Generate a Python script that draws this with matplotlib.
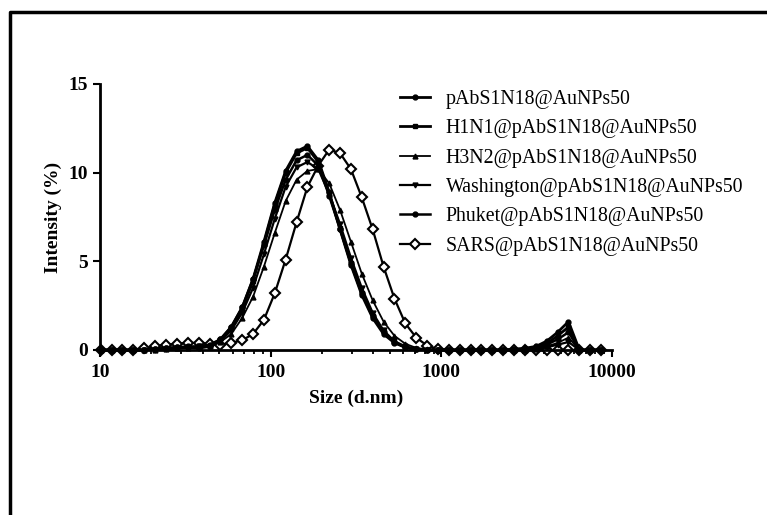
import matplotlib.pyplot as plt
from matplotlib.lines import Line2D

# Tamaños de partícula (nm) de los bins del equipo DLS
size_nm = [10.10, 11.70, 13.54, 15.69, 18.17, 21.04, 24.36, 28.21, 32.67, 37.84,
           43.82, 50.75, 58.77, 68.06, 78.82, 91.28, 105.7, 122.4, 141.8, 164.2,
           190.1, 220.2, 255.0, 295.3, 342.0, 396.1, 458.7, 531.2, 615.1, 712.4,
           825.0, 955.4, 1106, 1281, 1484, 1718, 1990, 2305, 2669, 3091,
           3580, 4145, 4801, 5560, 6439, 7456, 8635]

# Intensidad (%) por muestra
pAbS1N18 = [0, 0, 0, 0, 0, 0.05, 0.1, 0.15, 0.15, 0.1,
            0.2, 0.6, 1.3, 2.4, 4.0, 6.1, 8.3, 10.1, 11.2, 11.5,
            10.7, 8.9, 6.8, 4.8, 3.1, 1.8, 0.9, 0.4, 0.15, 0.05,
            0, 0, 0, 0, 0, 0, 0, 0, 0.05, 0.1,
            0.2, 0.5, 1.0, 1.6, 0, 0, 0]
h1n1 = [0, 0, 0, 0, 0, 0.05, 0.1, 0.1, 0.15, 0.15,
        0.25, 0.55, 1.2, 2.3, 3.9, 6.0, 8.2, 10.0, 11.1, 11.4,
        10.6, 8.8, 6.9, 4.9, 3.2, 1.9, 1.0, 0.45, 0.15, 0.05,
        0, 0, 0, 0, 0, 0, 0, 0, 0, 0.05,
        0.15, 0.35, 0.8, 1.3, 0, 0, 0]
h3n2 = [0, 0, 0, 0, 0, 0, 0.05, 0.1, 0.1, 0.15,
        0.2, 0.45, 0.9, 1.8, 3.0, 4.7, 6.6, 8.4, 9.6, 10.1,
        10.2, 9.4, 7.9, 6.1, 4.3, 2.8, 1.6, 0.8, 0.35, 0.12,
        0.03, 0, 0, 0, 0, 0, 0, 0, 0, 0,
        0.05, 0.2, 0.4, 0.7, 0, 0, 0]
washington = [0, 0, 0, 0, 0, 0, 0.05, 0.1, 0.15, 0.2,
              0.25, 0.5, 1.1, 2.1, 3.5, 5.4, 7.4, 9.2, 10.3, 10.6,
              10.2, 8.8, 7.1, 5.2, 3.5, 2.1, 1.1, 0.5, 0.2, 0.05,
              0, 0, 0, 0, 0, 0, 0, 0, 0, 0,
              0.05, 0.15, 0.3, 0.45, 0, 0, 0]
phuket = [0, 0, 0, 0, 0, 0.05, 0.1, 0.15, 0.2, 0.2,
          0.3, 0.6, 1.3, 2.4, 4.0, 5.9, 7.9, 9.6, 10.7, 11.0,
          10.4, 8.7, 6.8, 4.9, 3.2, 1.9, 1.0, 0.45, 0.15, 0.05,
          0, 0, 0, 0, 0, 0, 0, 0, 0, 0.05,
          0.1, 0.3, 0.6, 1.0, 0, 0, 0]
sars = [0, 0, 0, 0, 0.1, 0.2, 0.3, 0.35, 0.4, 0.4,
        0.35, 0.3, 0.4, 0.55, 0.9, 1.7, 3.2, 5.1, 7.2, 9.2,
        10.4, 11.3, 11.1, 10.2, 8.6, 6.8, 4.7, 2.9, 1.5, 0.7,
        0.25, 0.05, 0, 0, 0, 0, 0, 0, 0, 0,
        0, 0, 0, 0, 0, 0, 0]

etiquetas = ['pAbS1N18@AuNPs50', 'H1N1@pAbS1N18@AuNPs50', 'H3N2@pAbS1N18@AuNPs50',
             'Washington@pAbS1N18@AuNPs50', 'Phuket@pAbS1N18@AuNPs50',
             'SARS@pAbS1N18@AuNPs50']
series = [pAbS1N18, h1n1, h3n2, washington, phuket, sars]
marcadores = ['o', 's', '^', 'v', 'o', 'D']
grosores = [2.0, 2.0, 1.3, 1.6, 1.8, 1.6]

plt.rcParams['font.family'] = ['Liberation Serif', 'DejaVu Serif']

fig = plt.figure(figsize=(7.67, 5.15), dpi=100)
ax = fig.add_axes([100 / 767, 1 - 350 / 515, 512 / 767, 266 / 515])

for y, lab, m, lw in zip(series, etiquetas, marcadores, grosores):
    if m == 'D':
        # SARS con rombos abiertos, por debajo de las demás curvas
        ax.plot(size_nm, y, color='black', lw=lw, marker='D', ms=5,
                mfc='white', mec='black', mew=1.5, label=lab, clip_on=False, zorder=1)
    else:
        ax.plot(size_nm, y, color='black', lw=lw, marker=m, ms=3.5,
                label=lab, clip_on=False, zorder=2)

ax.set_xscale('log')
ax.set_xlim(10, 10000)
ax.set_ylim(0, 15)
ax.set_yticks([0, 5, 10, 15])
ax.set_xticks([10, 100, 1000, 10000])
ax.set_xticklabels(['10', '100', '1000', '10000'])

for s in ['top', 'right']:
    ax.spines[s].set_visible(False)
for s in ['left', 'bottom']:
    ax.spines[s].set_linewidth(2)

ax.tick_params(axis='both', which='major', width=1.5, length=5, labelsize=14)
ax.tick_params(axis='x', which='minor', width=1.3, length=3)
ax.tick_params(axis='x', pad=5)
for t in ax.get_xticklabels() + ax.get_yticklabels():
    t.set_fontweight('bold')

ax.set_xlabel('Size (d.nm)', fontsize=14, fontweight='bold', labelpad=6)
ax.set_ylabel('Intensity (%)', fontsize=14, fontweight='bold', labelpad=5)

ax.legend(loc='upper left', bbox_to_anchor=(382 / 767, 1 - 72 / 515),
          bbox_transform=fig.transFigure, frameon=False, fontsize=14.3,
          handlelength=1.5, handletextpad=0.8, labelspacing=0.52)

# Marco exterior (solo lados izquierdo y superior)
fig.add_artist(Line2D([10 / 767, 10 / 767, 1.0], [0.0, 1 - 12 / 515, 1 - 12 / 515],
                      transform=fig.transFigure, color='black', lw=2.5))

fig.savefig('out.png', dpi=100)
